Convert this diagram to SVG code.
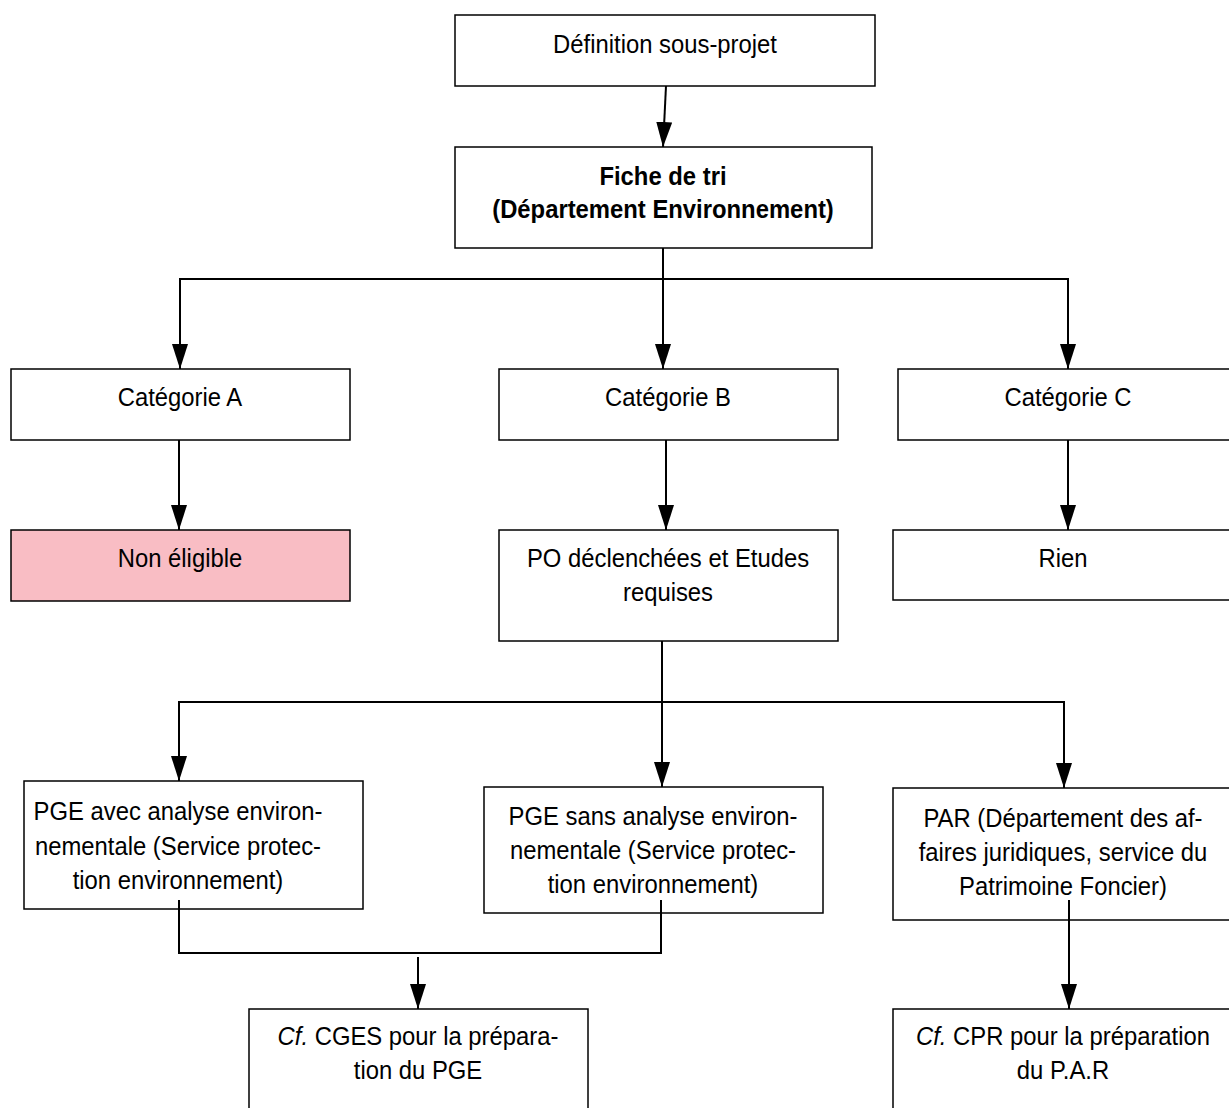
<svg xmlns="http://www.w3.org/2000/svg" width="1229" height="1108" viewBox="0 0 1229 1108">
<style>
.box{fill:#ffffff;stroke:#000000;stroke-width:1.5}
.pink{fill:#F9BDC4}
.t{font-family:"Liberation Sans",Arial,sans-serif;font-size:25.5px;fill:#000000;text-anchor:middle}
.b{font-weight:bold}
.i{font-style:italic}
.c{fill:none;stroke:#000000;stroke-width:2}
.a{fill:none;stroke:#000000;stroke-width:2;marker-end:url(#ah)}
</style>
<defs>
<marker id="ah" markerUnits="userSpaceOnUse" markerWidth="25" markerHeight="16" refX="25" refY="8" orient="auto" viewBox="0 0 25 16">
<path d="M0,0 L25,8 L0,16 Z" fill="#000000"/>
</marker>
</defs>
<rect width="1229" height="1108" fill="#ffffff"/>
<g id="n-definition">
<rect class="box" x="455" y="15" width="420" height="71"/>
<text class="t" x="0" y="53" transform="translate(665 0) scale(0.935 1)">Définition sous-projet</text>
</g>
<g id="n-fiche">
<rect class="box" x="455" y="147" width="417" height="101"/>
<text class="t b" x="0" y="185" transform="translate(663 0) scale(0.935 1)">Fiche de tri</text>
<text class="t b" x="0" y="218" transform="translate(663 0) scale(0.935 1)">(Département Environnement)</text>
</g>
<g id="n-catA">
<rect class="box" x="11" y="369" width="339" height="71"/>
<text class="t" x="0" y="406" transform="translate(180 0) scale(0.935 1)">Catégorie A</text>
</g>
<g id="n-catB">
<rect class="box" x="499" y="369" width="339" height="71"/>
<text class="t" x="0" y="406" transform="translate(668 0) scale(0.935 1)">Catégorie B</text>
</g>
<g id="n-catC">
<rect class="box" x="898" y="369" width="340" height="71"/>
<text class="t" x="0" y="406" transform="translate(1068 0) scale(0.935 1)">Catégorie C</text>
</g>
<g id="n-noneligible">
<rect class="box pink" x="11" y="530" width="339" height="71"/>
<text class="t" x="0" y="567" transform="translate(180 0) scale(0.935 1)">Non éligible</text>
</g>
<g id="n-po">
<rect class="box" x="499" y="530" width="339" height="111"/>
<text class="t" x="0" y="567" transform="translate(668 0) scale(0.935 1)">PO déclenchées et Etudes</text>
<text class="t" x="0" y="601" transform="translate(668 0) scale(0.935 1)">requises</text>
</g>
<g id="n-rien">
<rect class="box" x="893" y="530" width="340" height="70"/>
<text class="t" x="0" y="567" transform="translate(1063 0) scale(0.935 1)">Rien</text>
</g>
<g id="n-pge-avec">
<rect class="box" x="24" y="781" width="339" height="128"/>
<text class="t" x="0" y="820" transform="translate(178 0) scale(0.935 1)">PGE avec analyse environ-</text>
<text class="t" x="0" y="855" transform="translate(178 0) scale(0.935 1)">nementale (Service protec-</text>
<text class="t" x="0" y="889" transform="translate(178 0) scale(0.935 1)">tion environnement)</text>
</g>
<g id="n-pge-sans">
<rect class="box" x="484" y="787" width="339" height="126"/>
<text class="t" x="0" y="825" transform="translate(653 0) scale(0.935 1)">PGE sans analyse environ-</text>
<text class="t" x="0" y="859" transform="translate(653 0) scale(0.935 1)">nementale (Service protec-</text>
<text class="t" x="0" y="893" transform="translate(653 0) scale(0.935 1)">tion environnement)</text>
</g>
<g id="n-par">
<rect class="box" x="893" y="788" width="340" height="132"/>
<text class="t" x="0" y="827" transform="translate(1063 0) scale(0.935 1)">PAR (Département des af-</text>
<text class="t" x="0" y="861" transform="translate(1063 0) scale(0.935 1)">faires juridiques, service du</text>
<text class="t" x="0" y="895" transform="translate(1063 0) scale(0.935 1)">Patrimoine Foncier)</text>
</g>
<g id="n-cges">
<rect class="box" x="249" y="1009" width="339" height="110"/>
<text class="t" x="0" y="1045" transform="translate(418 0) scale(0.935 1)"><tspan class="i">Cf.</tspan> CGES pour la prépara-</text>
<text class="t" x="0" y="1079" transform="translate(418 0) scale(0.935 1)">tion du PGE</text>
</g>
<g id="n-cpr">
<rect class="box" x="893" y="1009" width="340" height="110"/>
<text class="t" x="0" y="1045" transform="translate(1063 0) scale(0.935 1)"><tspan class="i">Cf.</tspan> CPR pour la préparation</text>
<text class="t" x="0" y="1079" transform="translate(1063 0) scale(0.935 1)">du P.A.R</text>
</g>
<g id="connectors">
<line class="a" x1="666" y1="86" x2="663" y2="147"/>
<line class="c" x1="663" y1="248" x2="663" y2="279"/>
<line class="c" x1="179" y1="279" x2="1069" y2="279"/>
<line class="a" x1="180" y1="279" x2="180" y2="369"/>
<line class="a" x1="663" y1="279" x2="663" y2="369"/>
<line class="a" x1="1068" y1="279" x2="1068" y2="369"/>
<line class="a" x1="179" y1="440" x2="179" y2="530"/>
<line class="a" x1="666" y1="440" x2="666" y2="530"/>
<line class="a" x1="1068" y1="440" x2="1068" y2="530"/>
<line class="c" x1="662" y1="641" x2="662" y2="702"/>
<line class="c" x1="178" y1="702" x2="1065" y2="702"/>
<line class="a" x1="179" y1="702" x2="179" y2="781"/>
<line class="a" x1="662" y1="702" x2="662" y2="787"/>
<line class="a" x1="1064" y1="702" x2="1064" y2="788"/>
<line class="c" x1="179" y1="900" x2="179" y2="953"/>
<line class="c" x1="661" y1="900" x2="661" y2="953"/>
<line class="c" x1="178" y1="953" x2="662" y2="953"/>
<line class="a" x1="418" y1="957" x2="418" y2="1009"/>
<line class="a" x1="1069" y1="900" x2="1069" y2="1009"/>
</g>
</svg>
